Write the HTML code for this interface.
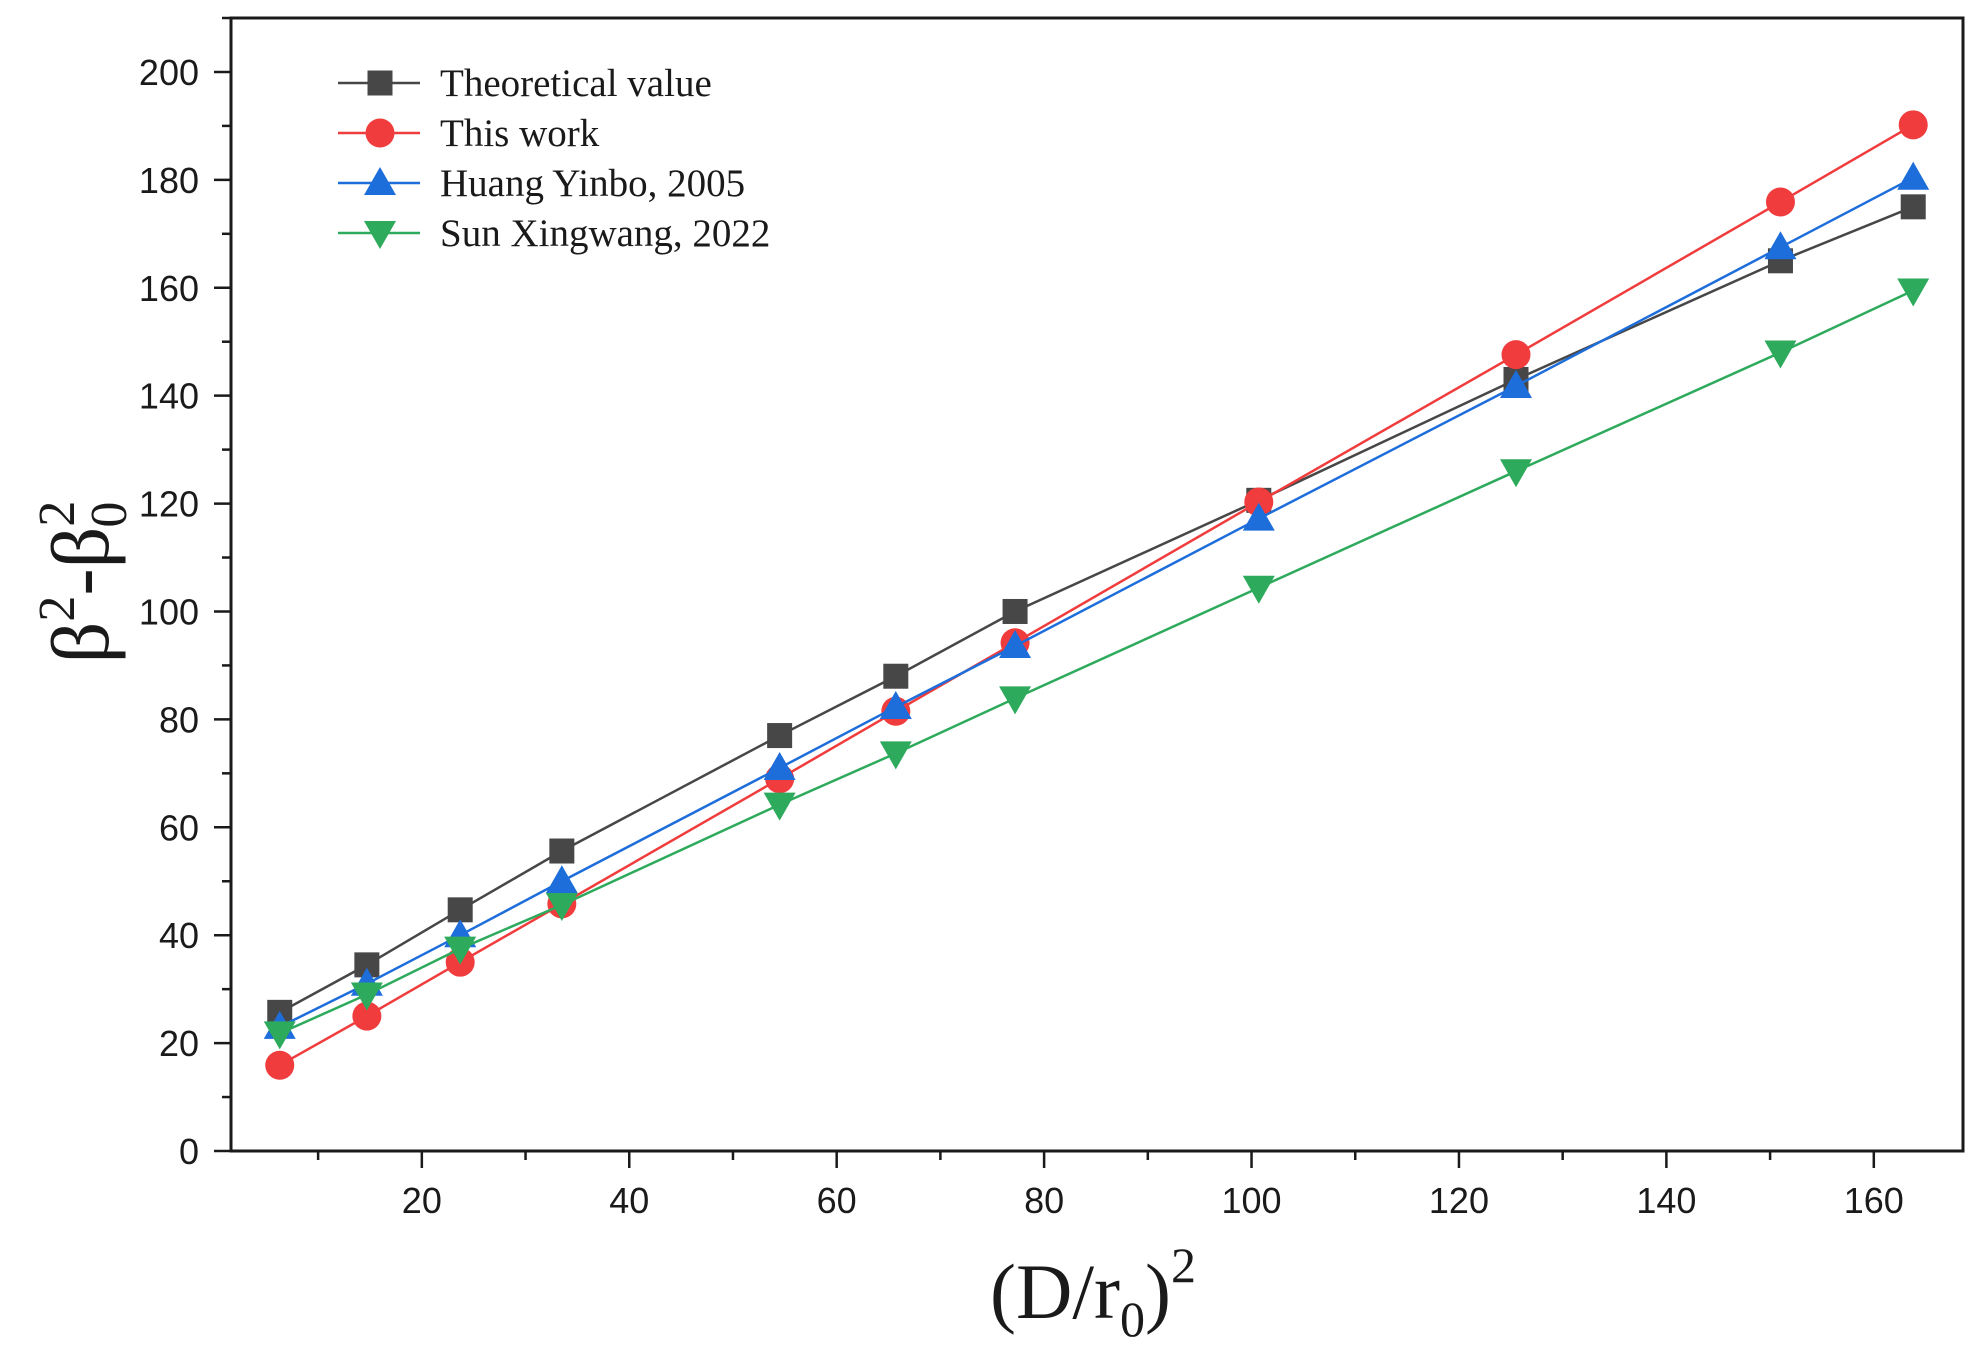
<!DOCTYPE html>
<html><head><meta charset="utf-8"><style>
html,body{margin:0;padding:0;background:#fff;}
svg{display:block;}
text{font-family:"Liberation Sans",sans-serif;}
.serif{font-family:"Liberation Serif",serif;}
</style></head><body>
<svg id="chart" width="1980" height="1367" viewBox="0 0 1980 1367" xmlns="http://www.w3.org/2000/svg"></svg>
<script>
const xValues = [6.3, 14.7, 23.7, 33.5, 54.5, 65.7, 77.2, 100.7, 125.5, 151, 163.8];
const theoretical = [25.7, 34.5, 44.7, 55.6, 77, 88, 100, 120.6, 143, 165, 175];
const thisWork = [15.9, 25, 35, 45.8, 69, 81.5, 94.2, 120.3, 147.6, 175.9, 190.2];
const huang = [23, 31, 40, 50, 71, 82.3, 93.6, 117.2, 141.8, 167.5, 180.4];
const sun = [21.8, 29, 37.5, 45.6, 64.2, 73.7, 83.9, 104.4, 126, 148, 159.5];
const xTicks = [20, 40, 60, 80, 100, 120, 140, 160];
const yTicks = [0, 20, 40, 60, 80, 100, 120, 140, 160, 180, 200];
const seriesNames = ["Theoretical value", "This work", "Huang Yinbo, 2005", "Sun Xingwang, 2022"];

const NS = "http://www.w3.org/2000/svg";
const svg = document.getElementById('chart');
const L = 231, R = 1963, T = 18, B = 1151;
const xMin = 1.6, xMax = 168.6, yMin = 0, yMax = 210;
function sx(v){ return L + (v - xMin) / (xMax - xMin) * (R - L); }
function sy(v){ return B - (v - yMin) / (yMax - yMin) * (B - T); }
function el(tag, attrs, parent){
  const e = document.createElementNS(NS, tag);
  for (const k in attrs) e.setAttribute(k, attrs[k]);
  (parent || svg).appendChild(e);
  return e;
}

const frame = el('rect', {x:L, y:T, width:R-L, height:B-T, fill:'none', stroke:'#1a1a1a', 'stroke-width':3});



for (let v = 10; v <= 160; v += 10) {
  const major = v % 20 === 0;
  const t = el('line', {x1:sx(v), x2:sx(v), y1:B, y2:B + (major ? 17 : 9), stroke:'#1a1a1a', 'stroke-width':2.5});
  
  
}
xTicks.forEach(v => {
  const t = el('text', {x:sx(v), y:1213, 'text-anchor':'middle', 'font-size':36, fill:'#1a1a1a'});
  t.textContent = v;
  
  
});
for (let v = 0; v <= 210; v += 10) {
  const major = v % 20 === 0;
  const t = el('line', {x1:L, x2:L - (major ? 17 : 9), y1:sy(v), y2:sy(v), stroke:'#1a1a1a', 'stroke-width':2.5});
  
  
}
yTicks.forEach(v => {
  const t = el('text', {x:199, y:sy(v) + 13, 'text-anchor':'end', 'font-size':36, fill:'#1a1a1a'});
  t.textContent = v;
  
  
});

const xt = el('text', {x:1093, y:1318, 'text-anchor':'middle', 'font-size':78, class:'serif', fill:'#1a1a1a'});
xt.innerHTML = '(D/r<tspan font-size="50" dy="18">0</tspan><tspan dy="-18">)</tspan><tspan font-size="50" dy="-36">2</tspan>';


const yt = el('text', {x:0, y:0, 'text-anchor':'middle', 'font-size':82, class:'serif', fill:'#1a1a1a', transform:'translate(108,582) rotate(-90)'});
yt.innerHTML = 'β<tspan font-size="52" dy="-34">2</tspan><tspan dy="34">-β</tspan><tspan font-size="52" dy="-34">2</tspan><tspan font-size="52" dx="-27" dy="52">0</tspan>';



function marker(type, cx, cy, color, parent){
  if (type === 'square') return el('rect', {x:cx-12.5, y:cy-12.5, width:25, height:25, fill:color}, parent);
  if (type === 'circle') return el('circle', {cx:cx, cy:cy, r:14.5, fill:color}, parent);
  if (type === 'up') return el('polygon', {points:`${cx},${cy-16} ${cx+16},${cy+12} ${cx-16},${cy+12}`, fill:color}, parent);
  return el('polygon', {points:`${cx},${cy+16} ${cx+16},${cy-12} ${cx-16},${cy-12}`, fill:color}, parent);
}

const series = [
  {vals: theoretical, color:'#474747', m:'square', name:'series-theoretical'},
  {vals: thisWork, color:'#f03c3c', m:'circle', name:'series-this-work'},
  {vals: huang, color:'#1d6ddb', m:'up', name:'series-huang-yinbo'},
  {vals: sun, color:'#2eaa5c', m:'down', name:'series-sun-xingwang'}
];
series.forEach((s, si) => {
  const g = el('g', {});
  
  
  const pts = s.vals.map((v, i) => sx(xValues[i]) + ',' + sy(v)).join(' ');
  const pl = el('polyline', {points:pts, fill:'none', stroke:s.color, 'stroke-width':2.5}, g);
  
  
  s.vals.forEach((v, i) => {
    const mk = marker(s.m, sx(xValues[i]), sy(v), s.color, g);
    
    
  });
  const ly = [83, 133, 183, 233][si];
  const lg = el('g', {});
  
  
  el('line', {x1:338, x2:420, y1:ly, y2:ly, stroke:s.color, 'stroke-width':2.5}, lg);
  marker(s.m, 380, ly, s.color, lg);
  const lt = el('text', {x:440, y:ly + 13, 'font-size':39, class:'serif', fill:'#1a1a1a'}, lg);
  lt.textContent = seriesNames[si];
});
</script>
</body></html>
